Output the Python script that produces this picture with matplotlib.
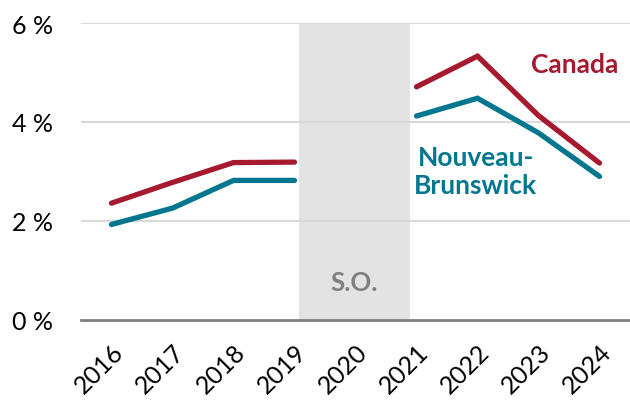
import matplotlib
matplotlib.use("Agg")
import matplotlib.pyplot as plt
import matplotlib.transforms as mtransforms
import numpy as np

years = ["2016", "2017", "2018", "2019", "2020", "2021", "2022", "2023", "2024"]
canada = [2.36, 2.78, 3.18, 3.19, np.nan, 4.71, 5.33, 4.13, 3.17]
nb = [1.93, 2.26, 2.82, 2.82, np.nan, 4.12, 4.48, 3.78, 2.90]
yticks = [0, 2, 4, 6]
ytick_labels = ["0 %", "2 %", "4 %", "6 %"]

RED = "#A6192E"
TEAL = "#00778F"

plt.rcParams['font.family'] = ['Lato', 'DejaVu Sans']

fig = plt.figure(figsize=(6.3, 4.02), dpi=100)
ax = fig.add_axes([81/630, 1-321/402, 1-81/630, (321-24)/402])

x = np.arange(len(years))
ax.axvspan(3.08, 4.89, color="#e3e3e3", zorder=0, lw=0)
for y in [2, 4, 6]:
    ax.axhline(y, color="#d9d9d9", lw=1.5, zorder=1)

ax.plot(x, canada, color=RED, lw=3.8, zorder=3, solid_capstyle='round', solid_joinstyle='miter')
ax.plot(x, nb, color=TEAL, lw=3.8, zorder=3, solid_capstyle='round', solid_joinstyle='miter')

ax.text(3.98, 0.77, "S.O.", color="#7f7f7f", fontsize=18.5, fontweight='bold', ha='center', va='center')
ax.text(7.6, 5.17, "Canada", color=RED, fontsize=19, fontweight='bold', ha='center', va='center')
ax.text(5.97, 3.02, "Nouveau-\nBrunswick", color=TEAL, fontsize=19, fontweight='bold', ha='center', va='center', linespacing=1.2)

ax.set_xlim(-0.5, 8.5)
ax.set_ylim(0, 6)
ax.set_xticks(x)
ax.set_xticklabels(years, rotation=45, ha='right', rotation_mode='anchor', fontsize=18)
offset = mtransforms.ScaledTranslation(-5/100, 0, fig.dpi_scale_trans)
for lbl in ax.get_xticklabels():
    lbl.set_transform(lbl.get_transform() + offset)
ax.set_yticks(yticks)
ax.set_yticklabels(ytick_labels, fontsize=18)
ax.tick_params(axis='both', length=0)
ax.tick_params(axis='y', pad=20)
ax.tick_params(axis='x', pad=14)
for s in ["top", "right", "left"]:
    ax.spines[s].set_visible(False)
ax.spines["bottom"].set_color("#808080")
ax.spines["bottom"].set_linewidth(2)
ax.spines["bottom"].set_zorder(4)
ax.set_facecolor("none")

fig.savefig("out.png", dpi=100)
